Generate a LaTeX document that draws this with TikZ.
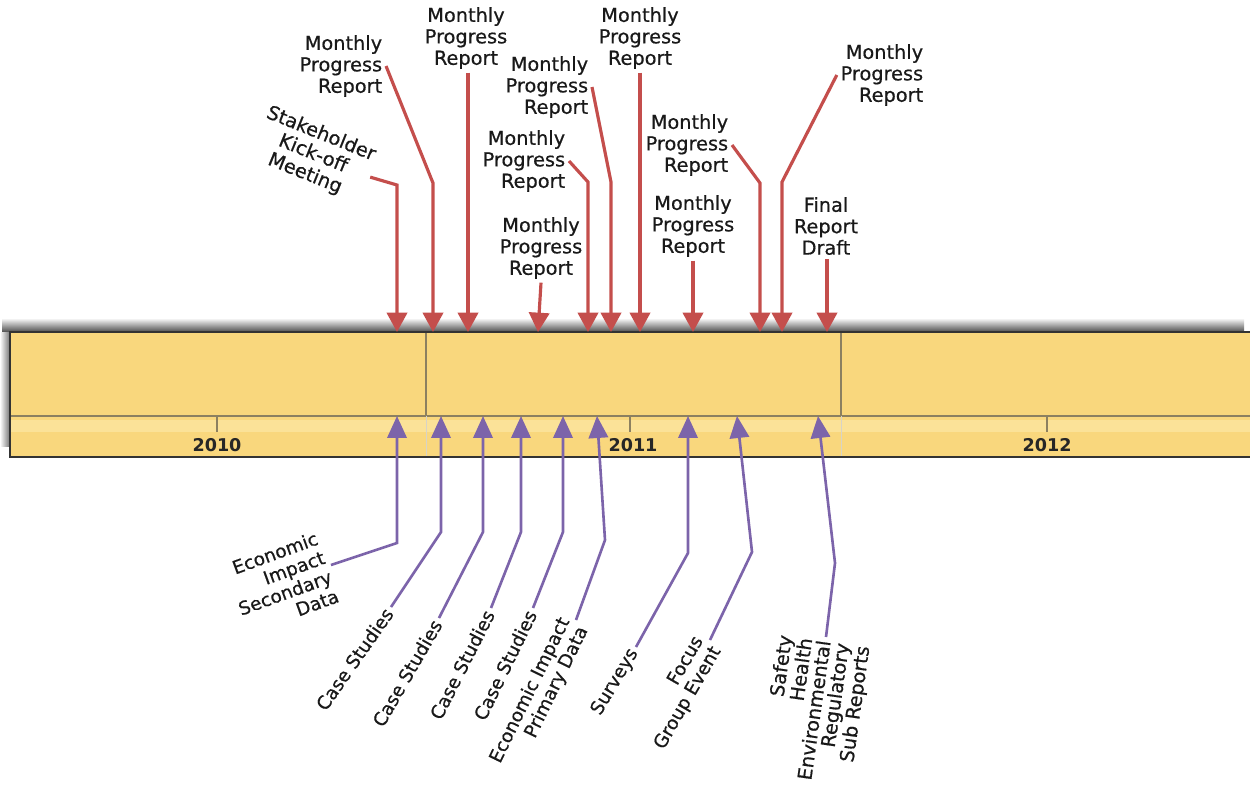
\documentclass[tikz,border=0pt]{standalone}
\usepackage{fontspec}
\setmainfont{DejaVu Sans}
\newfontfamily\tlfont{DejaVu Sans}[FakeBold=0.6]
\usetikzlibrary{arrows.meta}
\definecolor{barfill}{RGB}{249,215,125}
\definecolor{bandfill}{RGB}{251,226,152}
\definecolor{milered}{RGB}{196,78,76}
\definecolor{taskviolet}{RGB}{124,100,170}
\definecolor{axisgray}{RGB}{140,128,96}

\begin{document}
\begin{tikzpicture}[x=0.02cm,y=-0.02cm,
  toplabel/.style={align=center,inner sep=2pt,text=black!90,font=\tlfont\fontsize{11}{12.2}\selectfont},
  lowlabel/.style={align=right,inner sep=2pt,text=black!90,font=\tlfont\fontsize{10.5}{11.6}\selectfont},
  yearlabel/.style={inner sep=0pt,text=black!85,font=\bfseries\fontsize{10}{12}\selectfont},
  redarrow/.style={draw=milered,line width=1.8pt,-{Triangle[width=11.5pt,length=11pt]}},
  violetarrow/.style={draw=taskviolet,line width=1.5pt,{Triangle[width=11pt,length=12.5pt]}-}]
  \useasboundingbox (0,0) rectangle (1250,789);
  % timeline bar
  \shade[top color=white,bottom color=black!70] (2,318) rectangle (1244,332);
  \shade[left color=white,right color=black!55] (0,332) rectangle (10,446);
  \fill[barfill] (10,332) rectangle (1250,457);
  \fill[bandfill] (10,420) rectangle (1250,432);
  \draw[axisgray,line width=1.5pt] (10,416) -- (1250,416);
  \draw[axisgray,line width=1pt] (426,332) -- (426,416);
  \draw[axisgray,line width=1pt] (841,332) -- (841,416);
  \draw[axisgray!35] (426,416) -- (426,457);
  \draw[axisgray!35] (841,416) -- (841,457);
  \draw[black!80,line width=1pt] (1250,332) -- (10,332) -- (10,457) -- (1250,457);
  \draw[axisgray,line width=1.5pt] (217,416) -- (217,432);
  \draw[axisgray,line width=1.5pt] (630,416) -- (630,432);
  \draw[axisgray,line width=1.5pt] (1047,416) -- (1047,432);
  \node[yearlabel] (y2010) at (217,445) {2010};
  \node[yearlabel] (y2011) at (633,445) {2011};
  \node[yearlabel] (y2012) at (1047,445) {2012};
  % milestone tips
  \coordinate (r1) at (397,332);
  \coordinate (r2) at (433,332);
  \coordinate (r3) at (468,332);
  \coordinate (r4) at (538,332);
  \coordinate (r5) at (588,332);
  \coordinate (r6) at (611,332);
  \coordinate (r7) at (640,332);
  \coordinate (r8) at (693,332);
  \coordinate (r9) at (760,332);
  \coordinate (r10) at (782,332);
  \coordinate (r11) at (827,332);
  \coordinate (p1) at (397,416);
  \coordinate (p2) at (441,416);
  \coordinate (p3) at (483,416);
  \coordinate (p4) at (521,416);
  \coordinate (p5) at (563,416);
  \coordinate (p6) at (597,416);
  \coordinate (p7) at (688,416);
  \coordinate (p8) at (737,416);
  \coordinate (p9) at (818,416);
  % milestones above
  \node[toplabel,rotate=-22] (stk) at (313,154) {Stakeholder\\Kick-off\\Meeting};
  \node[toplabel,align=right,anchor=east] (m1) at (386,66) {Monthly\\Progress\\Report};
  \node[toplabel] (m2) at (466,38) {Monthly\\Progress\\Report};
  \node[toplabel,align=right,anchor=east] (m3) at (592,87) {Monthly\\Progress\\Report};
  \node[toplabel,align=right,anchor=east] (m4) at (569,161) {Monthly\\Progress\\Report};
  \node[toplabel] (m5) at (541,248) {Monthly\\Progress\\Report};
  \node[toplabel] (m6) at (640,38) {Monthly\\Progress\\Report};
  \node[toplabel,align=right,anchor=east] (m7) at (732,145) {Monthly\\Progress\\Report};
  \node[toplabel] (m8) at (693,226) {Monthly\\Progress\\Report};
  \node[toplabel,align=right,anchor=east] (m9) at (927,75) {Monthly\\Progress\\Report};
  \node[toplabel] (fin) at (826,226) {Final\\Report\\Draft};
  \draw[redarrow] (stk.east) -- (r1 |- 0,185) -- (r1);
  \draw[redarrow] (m1.east) -- (r2 |- 0,183) -- (r2);
  \draw[redarrow] (r3 |- m2.south) -- (r3);
  \draw[redarrow] (m5.south) -- (r4);
  \draw[redarrow] (m4.east) -- (r5 |- 0,182) -- (r5);
  \draw[redarrow] (m3.east) -- (r6 |- 0,182) -- (r6);
  \draw[redarrow] (r7 |- m6.south) -- (r7);
  \draw[redarrow] (r8 |- m8.south) -- (r8);
  \draw[redarrow] (m7.east) -- (r9 |- 0,183) -- (r9);
  \draw[redarrow] (m9.west) -- (r10 |- 0,182) -- (r10);
  \draw[redarrow] (r11 |- fin.south) -- (r11);
  % tasks below
  \node[lowlabel,rotate=20,anchor=east] (esd) at (331,565) {Economic\\Impact\\Secondary\\Data};
  \node[lowlabel,rotate=55,anchor=east] (cs1) at (391,607) {Case Studies};
  \node[lowlabel,rotate=60,anchor=east] (cs2) at (439,618) {Case Studies};
  \node[lowlabel,rotate=63,anchor=east] (cs3) at (491,608) {Case Studies};
  \node[lowlabel,rotate=64,anchor=east] (cs4) at (533,608) {Case Studies};
  \node[lowlabel,rotate=64,anchor=east] (epd) at (576,620) {Economic Impact\\Primary Data};
  \node[lowlabel,rotate=59,anchor=east] (sur) at (636,647) {Surveys};
  \node[lowlabel,rotate=60,anchor=east] (feg) at (710,640) {Focus\\Group Event};
  \node[lowlabel,rotate=82,anchor=east,font=\tlfont\fontsize{11}{10.6}\selectfont] (shr) at (826,637) {Safety\\Health\\Environmental\\Regulatory\\Sub Reports};
  \draw[violetarrow] (p1) -- (p1 |- 0,543) -- (esd.east);
  \draw[violetarrow] (p2) -- (p2 |- 0,532) -- (cs1.east);
  \draw[violetarrow] (p3) -- (p3 |- 0,532) -- (cs2.east);
  \draw[violetarrow] (p4) -- (p4 |- 0,532) -- (cs3.east);
  \draw[violetarrow] (p5) -- (p5 |- 0,532) -- (cs4.east);
  \draw[violetarrow] (p6) -- ++(8,124) -- (epd.east);
  \draw[violetarrow] (p7) -- ++(0,137) -- (sur.east);
  \draw[violetarrow] (p8) -- ++(15,136) -- (feg.east);
  \draw[violetarrow] (p9) -- ++(17,147) -- (shr.east);
\end{tikzpicture}
\end{document}
